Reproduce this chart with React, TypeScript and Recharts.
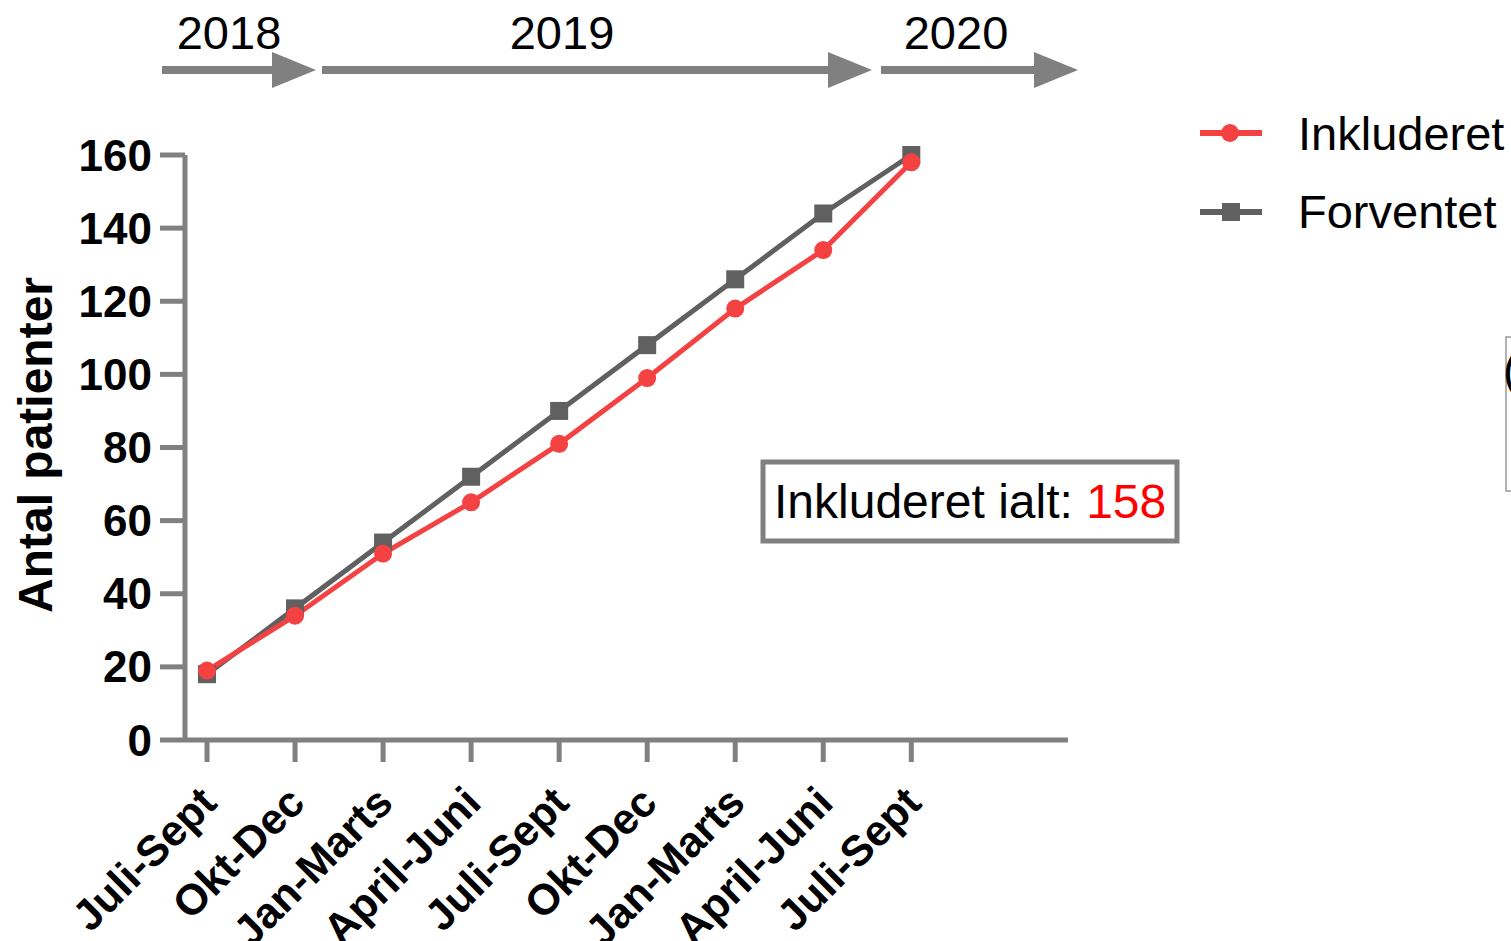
import React from 'react'
import { LineChart, Line, XAxis, YAxis, Legend } from 'recharts'

// quarters, jul 2018 -> sep 2020
const periods = ['Juli-Sept', 'Okt-Dec', 'Jan-Marts', 'April-Juni', 'Juli-Sept', 'Okt-Dec', 'Jan-Marts', 'April-Juni', 'Juli-Sept']
const inkluderet = [19, 34, 51, 65, 81, 99, 118, 134, 158]
const forventet = [18, 36, 54, 72, 90, 108, 126, 144, 160]
const yTicks = [0, 20, 40, 60, 80, 100, 120, 140, 160]
const xTicks = periods.map((_, i) => i)
const total = inkluderet[inkluderet.length - 1]

const FONT = '"Liberation Sans", Arial, sans-serif'
const RED = '#f44141'
const DARK = '#606060'
const AXIS = '#808080'

const rows = periods.map((p, i) => ({ i, period: p, inkluderet: inkluderet[i], forventet: forventet[i] }))

// year arrows along the top (pixels)
const yearArrows = [
  { label: '2018', x1: 162, x2: 316, tx: 229 },
  { label: '2019', x1: 322, x2: 872, tx: 562 },
  { label: '2020', x1: 881, x2: 1078, tx: 956 },
]

const LEGEND_W = 320

const PeriodTick = (props: any) => {
  const { x, y, payload } = props
  const ax = x + 12
  const ay = y + 41
  return (
    <text
      x={ax}
      y={ay}
      textAnchor="end"
      transform={`rotate(-45, ${ax}, ${ay})`}
      fontSize={43}
      fontWeight="bold"
      fontFamily={FONT}
      fill="#000"
    >
      {periods[payload.value]}
    </text>
  )
}

const SquareDot = (props: any) => {
  const { cx, cy, index } = props
  if (cx == null || cy == null) return <g key={index} />
  return <rect key={index} x={cx - 9} y={cy - 9} width={18} height={18} fill={DARK} />
}

const renderLegend = () => (
  <svg width={LEGEND_W} height={140}>
    <line x1={10} x2={72} y1={33} y2={33} stroke={RED} strokeWidth={6} />
    <circle cx={40} cy={33} r={9} fill={RED} />
    <text x={108} y={50} fontSize={47} fontFamily={FONT} fill="#000">Inkluderet</text>
    <line x1={10} x2={72} y1={112} y2={112} stroke={DARK} strokeWidth={6} />
    <rect x={32} y={103} width={18} height={18} fill={DARK} />
    <text x={108} y={128} fontSize={47} fontFamily={FONT} fill="#000">Forventet</text>
  </svg>
)

export default function App() {
  return (
    <div style={{ position: 'absolute', left: 0, top: 0, width: 1511, height: 941, background: '#fff', fontFamily: FONT, overflow: 'hidden' }}>
      <LineChart width={1511} height={941} data={rows} margin={{ top: 155, right: 443 - LEGEND_W, bottom: 0, left: 0 }}>
        <XAxis
          type="number"
          dataKey="i"
          domain={[-0.25, 9.78]}
          ticks={xTicks}
          interval={0}
          allowDataOverflow
          height={201}
          tickSize={22}
          tickMargin={2}
          axisLine={{ stroke: AXIS, strokeWidth: 5 }}
          tickLine={{ stroke: AXIS, strokeWidth: 5 }}
          tick={<PeriodTick />}
        />
        <YAxis
          domain={[0, 160]}
          ticks={yTicks}
          interval={0}
          width={185}
          tickSize={25}
          tickMargin={8}
          axisLine={{ stroke: AXIS, strokeWidth: 5 }}
          tickLine={{ stroke: AXIS, strokeWidth: 5 }}
          tick={{ fill: '#000', fontSize: 44, fontWeight: 'bold', fontFamily: FONT }}
        />
        <Legend
          layout="vertical"
          verticalAlign="top"
          align="right"
          content={renderLegend}
          wrapperStyle={{ position: 'absolute', left: 1190, top: 100, width: LEGEND_W, height: 140 }}
        />
        <Line dataKey="forventet" stroke={DARK} strokeWidth={5} dot={<SquareDot />} activeDot={false} isAnimationActive={false} />
        <Line dataKey="inkluderet" stroke={RED} strokeWidth={5} dot={{ r: 9, fill: RED, stroke: 'none' }} activeDot={false} isAnimationActive={false} />
      </LineChart>

      <svg width={1511} height={941} style={{ position: 'absolute', left: 0, top: 0, pointerEvents: 'none' }}>
        {yearArrows.map(a => (
          <g key={a.label}>
            <rect x={a.x1} y={66} width={a.x2 - a.x1 - 44} height={8} fill={AXIS} />
            <polygon points={`${a.x2 - 44},52 ${a.x2},70 ${a.x2 - 44},88`} fill={AXIS} />
            <text x={a.tx} y={49} textAnchor="middle" fontSize={47} fontFamily={FONT} fill="#000">{a.label}</text>
          </g>
        ))}
        <text x={52} y={445} textAnchor="middle" transform="rotate(-90, 52, 445)" fontSize={48} fontWeight="bold" fontFamily={FONT} fill="#000">
          Antal patienter
        </text>
        <rect x={763} y={462} width={414} height={79} fill="#fff" stroke={AXIS} strokeWidth={5} />
        <text x={774} y={518} fontSize={48} fontFamily={FONT} fill="#000">
          Inkluderet ialt: <tspan fill="#ff0000">{total}</tspan>
        </text>
        <rect x={1506} y={337} width={20} height={154} fill="none" stroke="#999" strokeWidth={1.5} />
        <text x={1503} y={386} fontSize={46} fontFamily={FONT} fill="#000">(</text>
      </svg>
    </div>
  )
}
